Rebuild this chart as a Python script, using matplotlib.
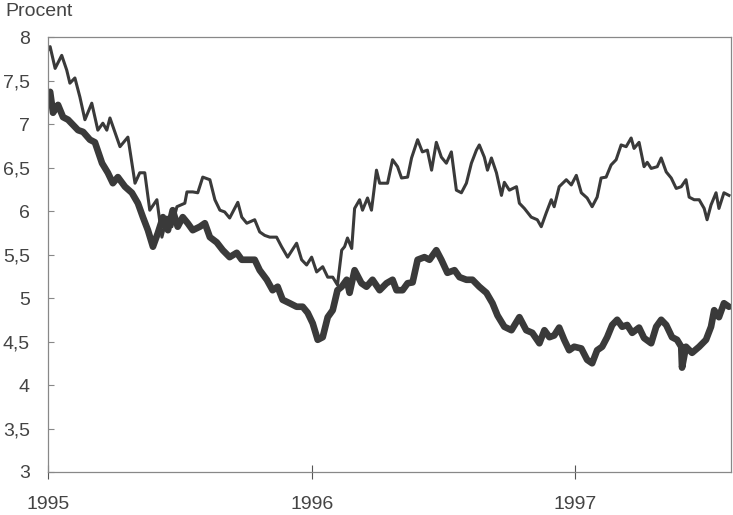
import matplotlib
matplotlib.use("Agg")
import matplotlib.pyplot as plt

# Tunn linje (lång ränta)
tid_tunn = [
    1995.000, 1995.008, 1995.027, 1995.052, 1995.071, 1995.083, 1995.102, 1995.121, 1995.140, 1995.166,
    1995.189, 1995.208, 1995.223, 1995.235, 1995.273, 1995.303, 1995.330, 1995.348, 1995.367, 1995.386,
    1995.413, 1995.432, 1995.451, 1995.470, 1995.489, 1995.519, 1995.527, 1995.549, 1995.568, 1995.587,
    1995.614, 1995.633, 1995.652, 1995.670, 1995.689, 1995.720, 1995.735, 1995.754, 1995.784, 1995.803,
    1995.822, 1995.841, 1995.867, 1995.886, 1995.909, 1995.943, 1995.962, 1995.981, 1996.000, 1996.019,
    1996.042, 1996.061, 1996.080, 1996.098, 1996.114, 1996.125, 1996.136, 1996.152, 1996.163, 1996.182,
    1996.193, 1996.212, 1996.227, 1996.246, 1996.258, 1996.288, 1996.307, 1996.326, 1996.341, 1996.364,
    1996.379, 1996.402, 1996.420, 1996.439, 1996.455, 1996.473, 1996.492, 1996.511, 1996.530, 1996.549,
    1996.568, 1996.587, 1996.606, 1996.625, 1996.636, 1996.655, 1996.667, 1996.682, 1996.701, 1996.720,
    1996.731, 1996.750, 1996.777, 1996.788, 1996.807, 1996.833, 1996.856, 1996.871, 1996.890, 1996.909,
    1996.920, 1996.939, 1996.966, 1996.985, 1997.004, 1997.023, 1997.045, 1997.064, 1997.083, 1997.098,
    1997.117, 1997.136, 1997.155, 1997.174, 1997.193, 1997.212, 1997.223, 1997.242, 1997.261, 1997.273,
    1997.288, 1997.311, 1997.326, 1997.345, 1997.364, 1997.383, 1997.402, 1997.420, 1997.432, 1997.451,
    1997.470, 1997.489, 1997.500, 1997.515, 1997.534, 1997.545, 1997.564, 1997.583,
]
ranta_tunn = [
    7.85, 7.89, 7.64, 7.79, 7.62, 7.47, 7.53, 7.31, 7.05, 7.24,
    6.93, 7.01, 6.93, 7.07, 6.74, 6.85, 6.32, 6.44, 6.44, 6.01,
    6.13, 5.70, 5.93, 5.82, 6.05, 6.09, 6.22, 6.22, 6.21, 6.39,
    6.36, 6.13, 6.01, 5.99, 5.92, 6.10, 5.93, 5.86, 5.90, 5.76,
    5.72, 5.70, 5.70, 5.59, 5.47, 5.63, 5.44, 5.38, 5.47, 5.30,
    5.36, 5.24, 5.24, 5.15, 5.55, 5.59, 5.69, 5.57, 6.03, 6.13,
    6.01, 6.15, 6.01, 6.47, 6.32, 6.32, 6.59, 6.51, 6.38, 6.39,
    6.61, 6.82, 6.68, 6.70, 6.47, 6.79, 6.62, 6.55, 6.68, 6.24,
    6.21, 6.32, 6.55, 6.70, 6.76, 6.62, 6.47, 6.61, 6.44, 6.18,
    6.33, 6.24, 6.28, 6.09, 6.03, 5.93, 5.90, 5.82, 5.98, 6.13,
    6.05, 6.28, 6.36, 6.30, 6.41, 6.21, 6.15, 6.05, 6.16, 6.38,
    6.39, 6.53, 6.59, 6.76, 6.74, 6.84, 6.72, 6.79, 6.51, 6.56,
    6.49, 6.51, 6.61, 6.45, 6.38, 6.26, 6.28, 6.36, 6.16, 6.13,
    6.13, 6.03, 5.90, 6.07, 6.21, 6.03, 6.21, 6.18,
]

# Tjock linje (kort ränta)
tid_tjock = [
    1995.000, 1995.008, 1995.019, 1995.038, 1995.057, 1995.076, 1995.095, 1995.114, 1995.133, 1995.159,
    1995.178, 1995.205, 1995.227, 1995.246, 1995.265, 1995.292, 1995.318, 1995.341, 1995.360, 1995.379,
    1995.398, 1995.417, 1995.436, 1995.455, 1995.473, 1995.492, 1995.511, 1995.530, 1995.549, 1995.576,
    1995.595, 1995.614, 1995.640, 1995.663, 1995.689, 1995.716, 1995.735, 1995.758, 1995.784, 1995.803,
    1995.830, 1995.852, 1995.871, 1995.890, 1995.917, 1995.943, 1995.966, 1995.985, 1996.004, 1996.023,
    1996.042, 1996.061, 1996.080, 1996.098, 1996.114, 1996.133, 1996.144, 1996.163, 1996.189, 1996.208,
    1996.231, 1996.258, 1996.284, 1996.307, 1996.322, 1996.345, 1996.364, 1996.383, 1996.402, 1996.428,
    1996.447, 1996.473, 1996.492, 1996.515, 1996.542, 1996.561, 1996.587, 1996.610, 1996.636, 1996.663,
    1996.686, 1996.705, 1996.731, 1996.758, 1996.788, 1996.814, 1996.837, 1996.864, 1996.883, 1996.902,
    1996.920, 1996.939, 1996.958, 1996.977, 1996.996, 1997.023, 1997.045, 1997.064, 1997.083, 1997.102,
    1997.121, 1997.140, 1997.159, 1997.178, 1997.197, 1997.216, 1997.242, 1997.261, 1997.288, 1997.307,
    1997.326, 1997.345, 1997.367, 1997.386, 1997.402, 1997.405, 1997.420, 1997.443, 1997.470, 1997.496,
    1997.515, 1997.527, 1997.545, 1997.564, 1997.583,
]
ranta_tjock = [
    7.36, 7.37, 7.13, 7.22, 7.08, 7.05, 6.99, 6.93, 6.91, 6.82,
    6.79, 6.55, 6.44, 6.32, 6.39, 6.28, 6.21, 6.09, 5.93, 5.78,
    5.59, 5.75, 5.93, 5.78, 6.01, 5.82, 5.93, 5.86, 5.78, 5.82,
    5.86, 5.70, 5.64, 5.55, 5.47, 5.52, 5.44, 5.44, 5.44, 5.32,
    5.21, 5.09, 5.13, 4.98, 4.94, 4.90, 4.90, 4.83, 4.71, 4.52,
    4.55, 4.78, 4.86, 5.09, 5.13, 5.21, 5.06, 5.32, 5.17, 5.13,
    5.21, 5.09, 5.17, 5.21, 5.09, 5.09, 5.17, 5.18, 5.44, 5.47,
    5.44, 5.55, 5.44, 5.29, 5.32, 5.24, 5.21, 5.21, 5.13, 5.06,
    4.94, 4.80, 4.67, 4.63, 4.78, 4.63, 4.60, 4.48, 4.63, 4.55,
    4.57, 4.66, 4.52, 4.40, 4.44, 4.42, 4.29, 4.25, 4.40, 4.44,
    4.55, 4.69, 4.75, 4.67, 4.69, 4.60, 4.66, 4.54, 4.48, 4.67,
    4.75, 4.69, 4.55, 4.52, 4.44, 4.20, 4.44, 4.37, 4.44, 4.52,
    4.67, 4.86, 4.78, 4.94, 4.90,
]

y_ticks = [3, 3.5, 4, 4.5, 5, 5.5, 6, 6.5, 7, 7.5, 8]
y_etiketter = ["3", "3,5", "4", "4,5", "5", "5,5", "6", "6,5", "7", "7,5", "8"]
x_ticks = [1995, 1996, 1997]
x_etiketter = ["1995", "1996", "1997"]

plt.rcParams["font.family"] = ["Liberation Sans", "DejaVu Sans"]
textfarg = "#444444"
linjefarg = "#3a3a3a"

fig = plt.figure(figsize=(7.33, 5.15), dpi=100)
ax = fig.add_axes([0.0655, 0.0835, 0.9315, 0.8445])

ax.plot(tid_tunn, ranta_tunn, color=linjefarg, lw=2.2, solid_joinstyle="round")
ax.plot(tid_tjock, ranta_tjock, color=linjefarg, lw=4.8, solid_joinstyle="round",
        solid_capstyle="round")

ax.set_xlim(1995, 1997.59)
ax.set_ylim(3, 8)

ax.set_yticks(y_ticks)
ax.set_yticklabels(y_etiketter)
ax.set_xticks(x_ticks)
ax.set_xticklabels(x_etiketter)

ax.tick_params(axis="y", direction="in", length=4, width=0.8, color="#888888",
               pad=13, labelsize=14, labelcolor=textfarg)
ax.tick_params(axis="x", direction="inout", length=10, width=0.8, color="#555555",
               pad=12, labelsize=14, labelcolor=textfarg)

for spine in ax.spines.values():
    spine.set_color("#888888")
    spine.set_linewidth(0.9)

fig.text(0.007, 0.977, "Procent", fontsize=14, color=textfarg, va="center", ha="left")

fig.savefig("out.png", dpi=100)
